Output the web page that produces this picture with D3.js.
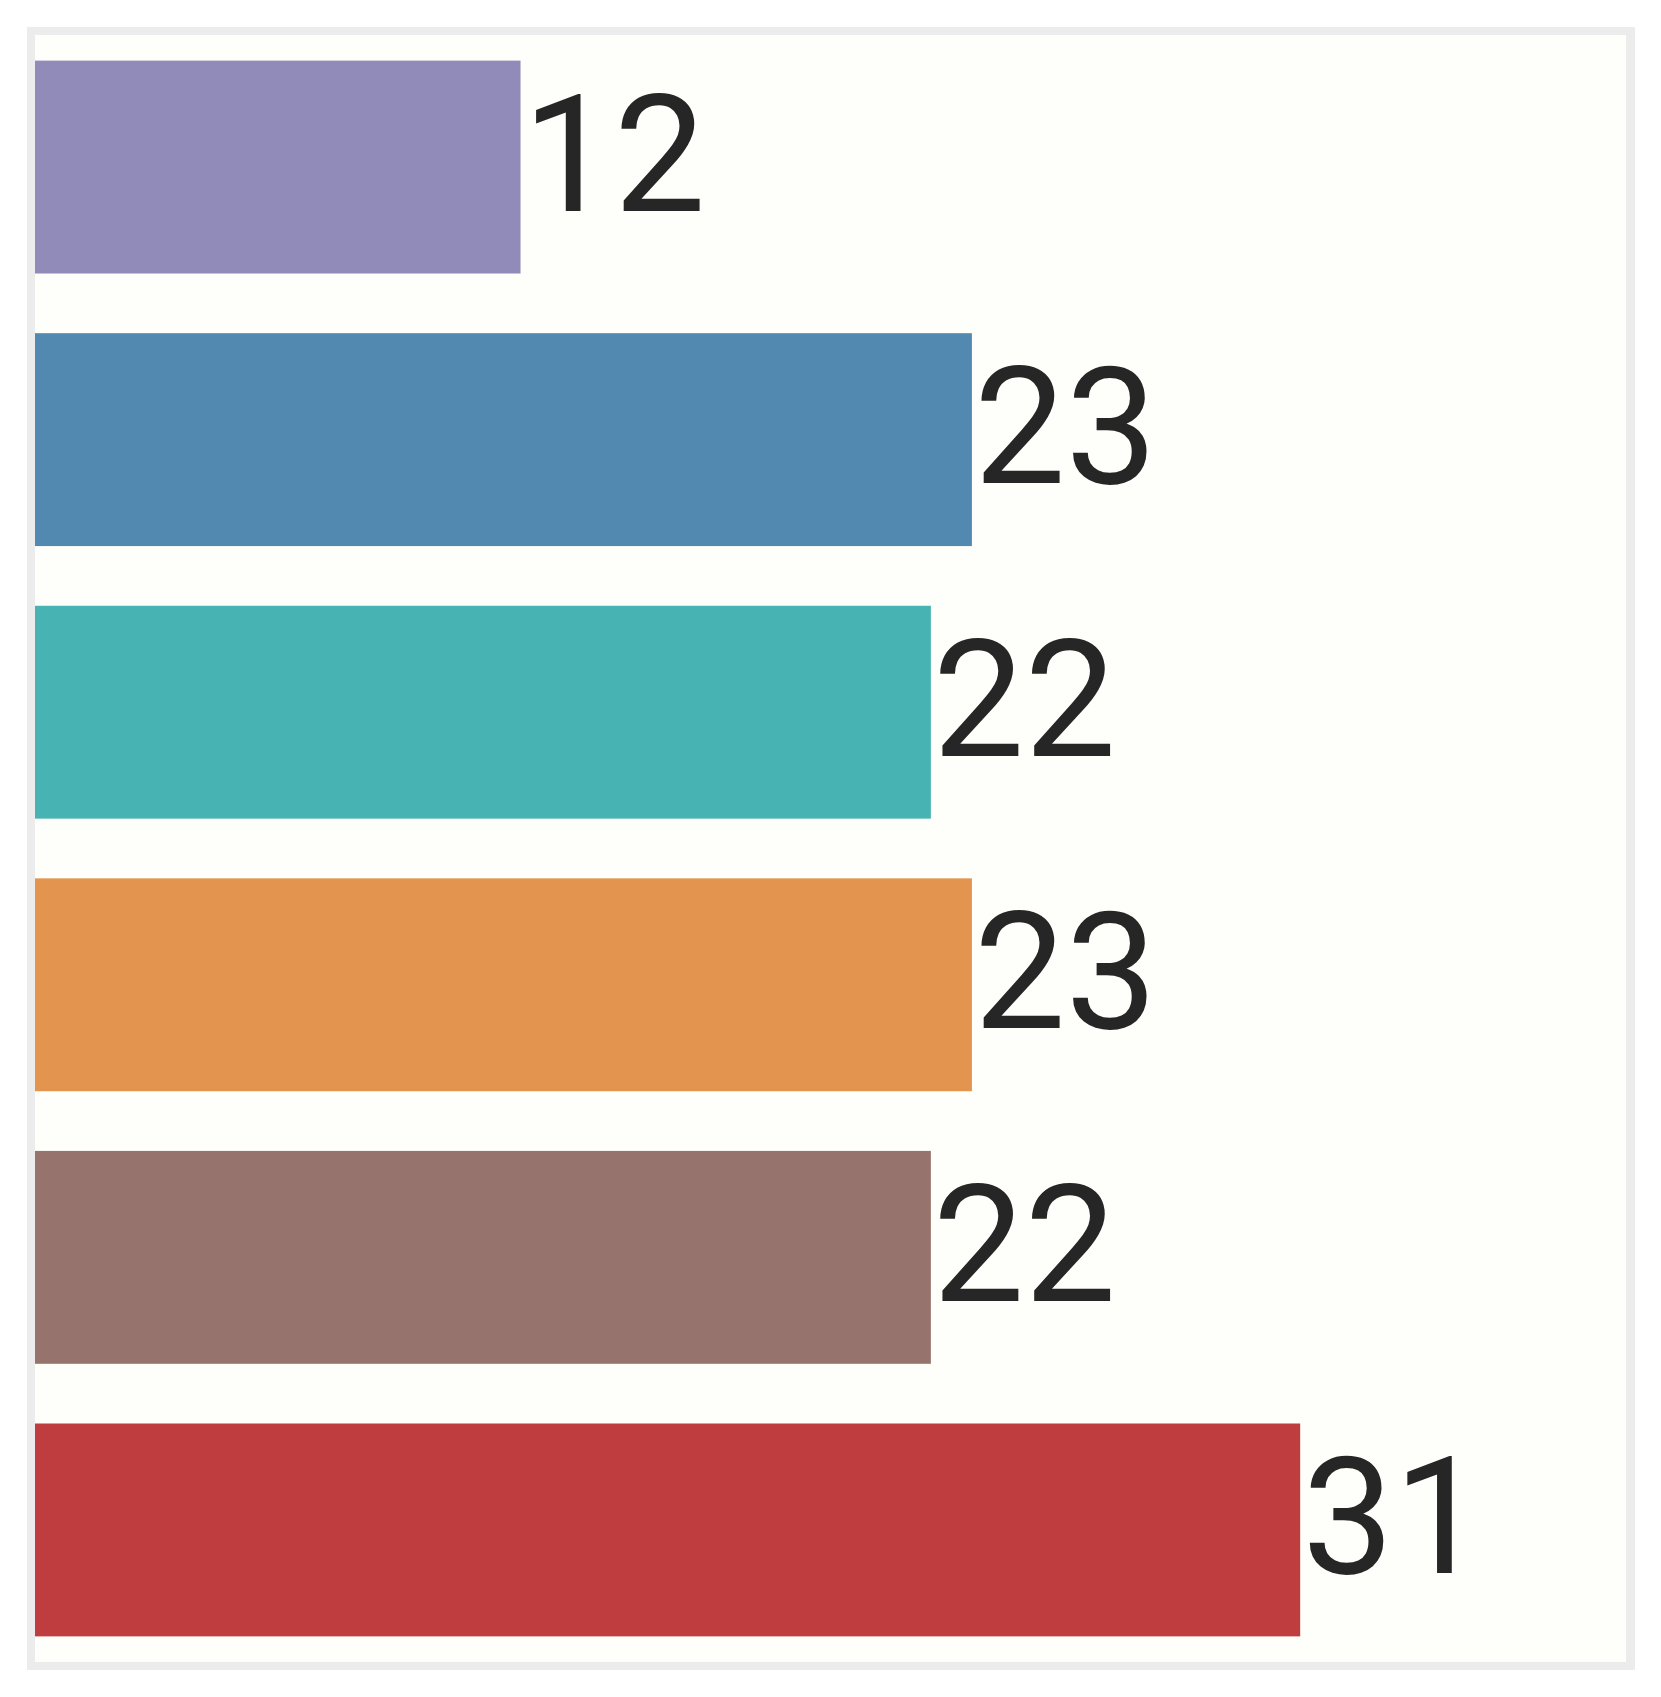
<!DOCTYPE html>
<html><head><meta charset="utf-8">
<script src="https://cdn.jsdelivr.net/npm/d3@7"></script>
<style>html,body{margin:0;padding:0;background:#ffffff;}svg{display:block;}</style>
</head><body>
<svg id="chart" width="1661" height="1697"></svg>
<script>
const categories = ["A", "B", "C", "D", "E", "F"];
const values = [12, 23, 22, 23, 22, 31];
const colors = ["#908bb9", "#5189b0", "#47b3b3", "#e3944f", "#96746d", "#bf3d3f"];

const svg = d3.select("#chart");
const outer = {x0: 27, y0: 27, x1: 1635, y1: 1670};
const inner = {x0: 35, y0: 35, x1: 1626, y1: 1662};

svg.append("rect").attr("x", outer.x0).attr("y", outer.y0)
  .attr("width", outer.x1 - outer.x0).attr("height", outer.y1 - outer.y0)
  .attr("fill", "#ececec");
svg.append("rect").attr("x", inner.x0).attr("y", inner.y0)
  .attr("width", inner.x1 - inner.x0).attr("height", inner.y1 - inner.y0)
  .attr("fill", "#fefefa");

// zero sits slightly left of the panel edge (bars clipped at the panel)
const x = d3.scaleLinear().domain([0, 38.94]).range([28.1, inner.x1]);
const y = d3.scaleBand().domain(categories).range([inner.y0, inner.y1])
  .paddingInner(0.219).paddingOuter(0.094);

const data = categories.map((c, i) => ({c, v: values[i], col: colors[i]}));

svg.selectAll("rect.bar").data(data).join("rect")
  .attr("class", "bar")
  .attr("x", inner.x0)
  .attr("y", d => y(d.c))
  .attr("width", d => x(d.v) - inner.x0)
  .attr("height", y.bandwidth())
  .attr("fill", d => d.col);

svg.selectAll("text.lbl").data(data).join("text")
  .attr("class", "lbl")
  .attr("x", d => x(d.v) + 2)
  .attr("y", d => y(d.c) + y.bandwidth() / 2 + 43.5)
  .attr("font-family", "Roboto, Arial, sans-serif")
  .attr("font-size", 163)
  .attr("fill", "#262626")
  .text(d => d.v);
</script>
</body></html>
